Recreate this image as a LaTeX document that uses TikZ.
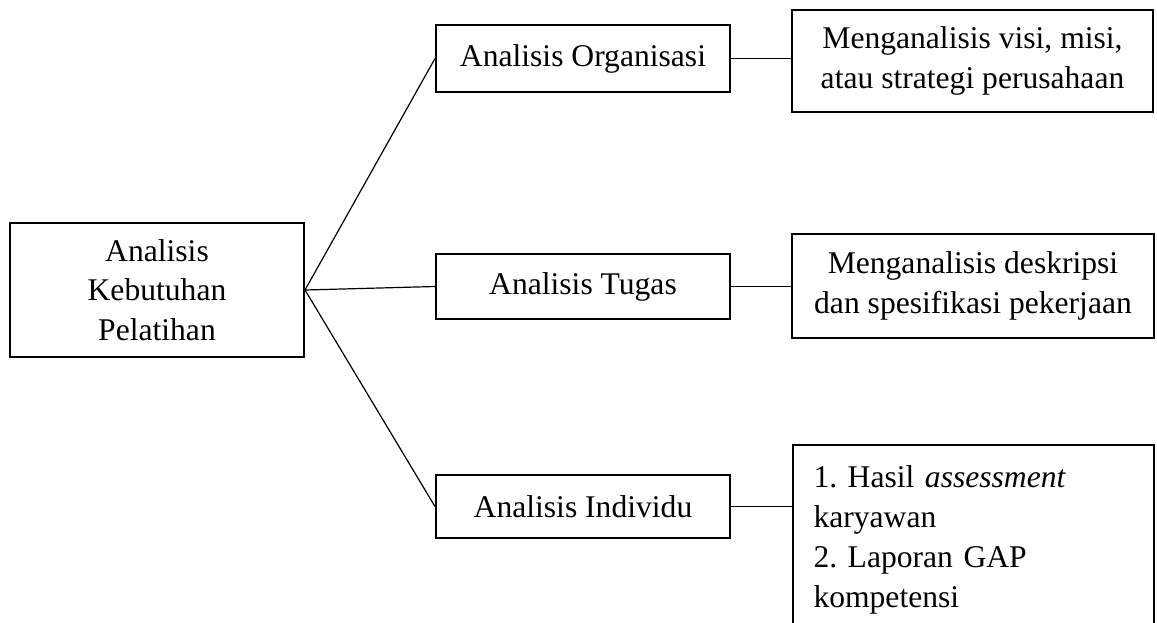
\documentclass[tikz,border=0pt]{standalone}
\usepackage{fontspec}
\setmainfont{Liberation Serif}
\frenchspacing
\begin{document}
\begin{tikzpicture}[x=0.5pt,y=-0.5pt,
  box/.style={draw=black, line width=1pt, inner sep=0pt, align=center,
    font=\fontsize{15.8}{19.9}\selectfont},
  link/.style={draw=black, line width=0.6pt}]
\useasboundingbox (0,0) rectangle (1157,622);
\clip (0,0) rectangle (1157,622);
\fill[white] (0,0) rectangle (1157,622);
% main boxes
\node[box, minimum width=147pt, minimum height=67pt] (root) at (157,290) {Analisis\\Kebutuhan\\Pelatihan};
\node[box, minimum width=147pt, minimum height=33.5pt] (org) at (583,58.5) {Analisis Organisasi};
\node[box, minimum width=147pt, minimum height=32.5pt] (tug) at (583,286.5) {Analisis Tugas};
\node[box, minimum width=147pt, minimum height=31.5pt] (ind) at (583,506.5) {Analisis Individu};
% detail boxes
\node[box, minimum width=180.5pt, minimum height=51pt] (orgR) at (972.5,61) {Menganalisis visi, misi,\\atau strategi perusahaan};
\node[box, minimum width=181pt, minimum height=52pt] (tugR) at (973,286) {Menganalisis deskripsi\\dan spesifikasi pekerjaan};
\node[box, align=left, anchor=north west, text width=160pt, inner xsep=10pt, inner ysep=10.5pt, minimum width=180.5pt] (indR) at (792,444)
  {1. Hasil \textit{assessment}\\karyawan\\2. Laporan GAP\\kompetensi};
% connectors
\draw[link] (root.east) -- (org.west);
\draw[link] (root.east) -- (tug.west);
\draw[link] (root.east) -- (ind.west);
\draw[link] (org.east) -- (orgR.west |- org.east);
\draw[link] (tug.east) -- (tugR.west |- tug.east);
\draw[link] (ind.east) -- (indR.west |- ind.east);
\end{tikzpicture}
\end{document}
